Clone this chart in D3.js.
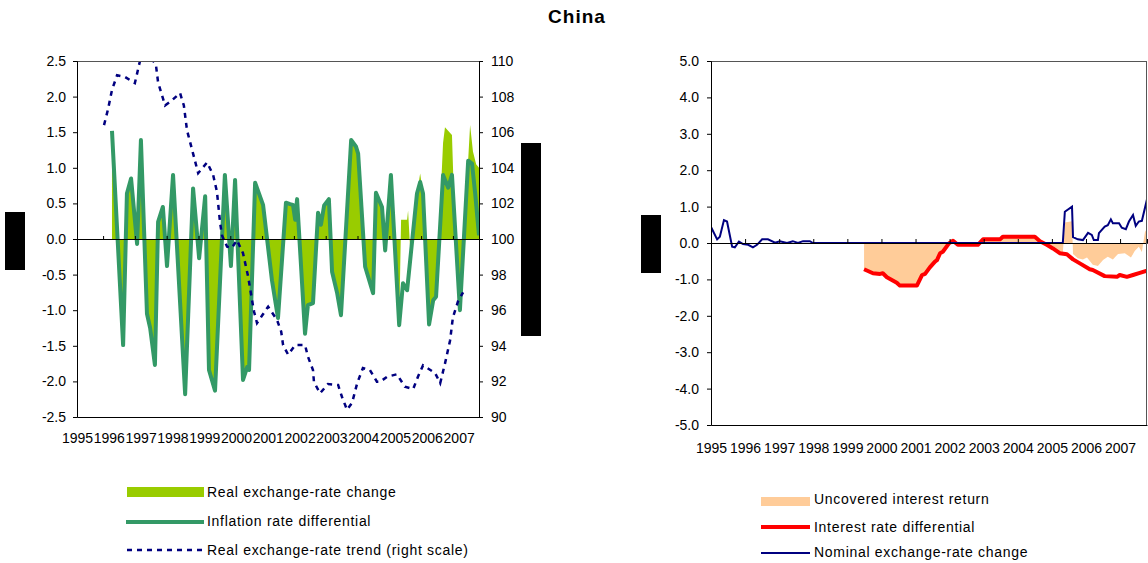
<!DOCTYPE html>
<html><head><meta charset="utf-8">
<script src="https://cdn.jsdelivr.net/npm/d3@7"></script>
<style>
html,body{margin:0;padding:0;background:#fff;}
svg{display:block;font-family:"Liberation Sans",Arial,sans-serif;}
</style></head>
<body><svg id="c" width="1148" height="563"></svg>
<script>
// ---------- DATA ----------
const yearLabels = ["1995","1996","1997","1998","1999","2000","2001","2002","2003","2004","2005","2006","2007"];
const leftTicks = [-2.5,-2.0,-1.5,-1.0,-0.5,0.0,0.5,1.0,1.5,2.0,2.5];
const rightScaleTicks = [90,92,94,96,98,100,102,104,106,108,110];
const rightTicks = [-5,-4,-3,-2,-1,0,1,2,3,4,5];

// Inflation rate differential (left chart, green line)
const inflDates = [1996.10,1996.45,1996.57,1996.70,1996.89,1997.01,1997.20,1997.30,1997.45,1997.55,1997.70,1997.83,1998.02,1998.40,1998.65,1998.84,1999.03,1999.15,1999.34,1999.65,1999.84,1999.97,2000.22,2000.35,2000.41,2000.60,2000.85,2001.13,2001.32,2001.57,2001.70,2001.79,2001.86,2001.92,2002.17,2002.26,2002.42,2002.58,2002.67,2002.77,2002.92,2003.02,2003.18,2003.30,2003.62,2003.77,2003.84,2004.06,2004.31,2004.40,2004.59,2004.69,2004.87,2005.13,2005.25,2005.38,2005.69,2005.79,2005.88,2006.07,2006.20,2006.29,2006.51,2006.67,2006.79,2007.04,2007.30,2007.42,2007.52,2007.64];
const inflValues = [1.52,-1.49,0.64,0.85,-0.07,1.39,-1.05,-1.25,-1.77,0.24,0.45,-0.38,0.90,-2.18,0.71,-0.27,0.60,-1.84,-2.13,0.90,-0.38,0.83,-1.98,-1.80,-1.84,0.79,0.48,-0.58,-1.11,0.51,0.49,0.48,0.27,0.56,-1.33,-0.93,-0.90,0.37,0.20,0.47,0.56,-0.46,-0.76,-1.07,1.39,1.30,1.20,-0.39,-0.76,0.65,0.45,-0.16,0.90,-1.21,-0.62,-0.72,0.64,0.80,0.64,-1.20,-0.86,-0.81,0.90,0.72,0.90,-1.00,1.10,1.06,0.64,0.05];

// Real exchange-rate change (left chart, lime area)
const rerDates = [1996.10,1996.45,1996.57,1996.70,1996.89,1997.01,1997.20,1997.30,1997.45,1997.55,1997.70,1997.83,1998.02,1998.40,1998.65,1998.84,1999.03,1999.15,1999.34,1999.65,1999.84,1999.97,2000.22,2000.35,2000.41,2000.60,2000.85,2001.13,2001.32,2001.57,2001.70,2001.79,2001.86,2001.92,2002.17,2002.26,2002.42,2002.58,2002.67,2002.77,2002.92,2003.02,2003.18,2003.30,2003.62,2003.77,2003.84,2004.06,2004.31,2004.40,2004.59,2004.69,2004.87,2005.13,2005.19,2005.38,2005.41,2005.50,2005.69,2005.79,2005.88,2006.07,2006.20,2006.29,2006.51,2006.57,2006.79,2006.83,2007.04,2007.36,2007.45,2007.55,2007.64];
const rerValues = [1.52,-1.49,0.64,0.85,-0.07,1.39,-1.05,-1.25,-1.77,0.24,0.45,-0.38,0.90,-2.18,0.71,-0.27,0.60,-1.84,-2.13,0.90,-0.38,0.83,-1.98,-1.80,-1.84,0.79,0.48,-0.58,-1.11,0.51,0.49,0.48,0.27,0.56,-1.33,-0.93,-0.90,0.37,0.20,0.47,0.56,-0.46,-0.76,-1.07,1.39,1.30,1.20,-0.39,-0.76,0.65,0.45,-0.16,0.90,-1.21,0.27,0.27,0.40,-0.35,0.64,0.92,0.64,-1.20,-0.86,-0.81,1.35,1.57,1.46,0.90,-1.00,1.60,1.23,1.05,1.00];

// Real exchange-rate trend (right scale, dashed navy)
const trendDates = [1995.85,1995.97,1996.10,1996.26,1996.51,1996.82,1996.98,1997.23,1997.48,1997.55,1997.77,1997.99,1998.24,1998.36,1998.46,1998.65,1998.81,1999.09,1999.28,1999.40,1999.50,1999.56,1999.72,1999.87,2000.03,2000.22,2000.38,2000.50,2000.57,2000.66,2000.82,2001.01,2001.29,2001.42,2001.48,2001.64,2001.86,2002.17,2002.26,2002.42,2002.45,2002.64,2002.89,2003.21,2003.33,2003.49,2003.65,2003.81,2003.99,2004.21,2004.43,2004.53,2004.75,2005.06,2005.31,2005.57,2005.72,2005.88,2006.26,2006.42,2006.57,2006.73,2006.82,2006.98,2007.14];
const trendValues = [106.4,107.25,108.37,109.2,109.1,108.76,110.0,110.4,109.8,108.8,107.5,107.8,108.2,107.5,106.1,104.8,103.7,104.3,103.6,102.66,100.9,100.2,99.57,99.5,99.94,99.2,97.9,96.6,95.9,95.28,95.7,96.2,95.45,94.8,94.04,93.5,94.04,94.04,93.4,92.64,91.98,91.33,91.85,91.8,91.14,90.4,90.8,91.9,92.75,92.64,91.98,91.98,92.26,92.4,91.7,91.57,92.26,92.9,92.47,91.9,93.0,94.3,95.6,96.5,97.0];

// Nominal exchange-rate change (right chart, navy line)
const nomDates = [1995.00,1995.18,1995.26,1995.38,1995.47,1995.62,1995.70,1995.82,1995.94,1996.09,1996.23,1996.35,1996.50,1996.67,1996.88,1997.02,1997.23,1997.40,1997.55,1997.70,1997.90,1997.99,2005.32,2005.38,2005.59,2005.62,2005.76,2005.91,2006.06,2006.17,2006.23,2006.35,2006.38,2006.55,2006.64,2006.73,2006.79,2006.97,2007.05,2007.17,2007.26,2007.38,2007.46,2007.55,2007.64,2007.79];
const nomValues = [0.44,0.10,0.17,0.63,0.59,-0.10,-0.12,0.04,-0.03,-0.05,-0.12,-0.05,0.10,0.10,0.01,0.05,0.00,0.05,0.00,0.05,0.05,0.00,0.00,0.86,1.00,0.16,0.10,0.08,0.28,0.22,0.08,0.08,0.27,0.45,0.49,0.65,0.54,0.54,0.42,0.38,0.59,0.77,0.47,0.59,0.61,1.20];

// Interest rate differential (right chart, red line)
const irdDates = [1999.49,1999.75,1999.96,2000.04,2000.16,2000.45,2000.54,2001.04,2001.19,2001.28,2001.42,2001.57,2001.63,2001.72,2001.80,2001.98,2002.10,2002.24,2002.83,2002.98,2003.48,2003.56,2004.50,2004.65,2004.85,2005.03,2005.23,2005.44,2005.62,2005.82,2006.11,2006.20,2006.55,2006.91,2006.99,2007.20,2007.38,2007.58,2007.79];
const irdValues = [-0.72,-0.83,-0.85,-0.83,-0.94,-1.09,-1.17,-1.17,-0.88,-0.85,-0.67,-0.51,-0.47,-0.28,-0.24,-0.01,0.06,-0.05,-0.05,0.10,0.10,0.17,0.17,0.05,-0.05,-0.15,-0.28,-0.31,-0.45,-0.56,-0.72,-0.74,-0.91,-0.93,-0.88,-0.93,-0.88,-0.82,-0.76];

// Uncovered interest return (right chart, peach area)
const uirDates = [1999.49,1999.75,1999.96,2000.04,2000.16,2000.45,2000.54,2001.04,2001.19,2001.28,2001.42,2001.57,2001.63,2001.72,2001.80,2001.98,2002.10,2002.24,2002.83,2002.98,2003.48,2003.56,2004.50,2004.65,2004.85,2005.03,2005.23,2005.32,2005.38,2005.59,2005.62,2005.76,2005.91,2006.03,2006.20,2006.35,2006.50,2006.64,2006.79,2006.94,2007.14,2007.32,2007.43,2007.55,2007.64,2007.73,2007.79];
const uirValues = [-0.72,-0.83,-0.85,-0.83,-0.94,-1.09,-1.17,-1.17,-0.88,-0.85,-0.67,-0.51,-0.47,-0.28,-0.24,-0.01,0.06,-0.05,-0.05,0.10,0.10,0.17,0.17,0.05,-0.05,-0.15,-0.28,-0.28,0.56,0.60,-0.30,-0.42,-0.45,-0.40,-0.60,-0.63,-0.47,-0.38,-0.45,-0.30,-0.28,-0.40,-0.22,-0.10,-0.25,0.30,0.40];

// ---------- DRAW ----------
const svg = d3.select("#c");
const zip = (ds, vs) => ds.map((d,i)=>({date:d, v:vs[i]}));
const fmt1 = d => d.toFixed(1);

// Title
svg.append("text").attr("x",577).attr("y",23).attr("text-anchor","middle")
  .attr("font-size",19).attr("font-weight","bold").attr("letter-spacing","1px").text("China");

// ===== LEFT CHART =====
const L = {x0:77, x1:479, y0:61, y1:417};
const xL = d3.scaleLinear().domain([1995, 2007.64]).range([L.x0, L.x1]);
const yL = d3.scaleLinear().domain([-2.5, 2.5]).range([L.y1, L.y0]);
const yT = d3.scaleLinear().domain([90, 110]).range([L.y1, L.y0]);

svg.append("clipPath").attr("id","clipL").append("rect")
  .attr("x",L.x0).attr("y",L.y0).attr("width",L.x1-L.x0).attr("height",L.y1-L.y0);
const gL = svg.append("g").attr("clip-path","url(#clipL)");

gL.append("path").datum(zip(rerDates, rerValues))
  .attr("fill","#99CC00")
  .attr("d", d3.area().x(d=>xL(d.date)).y0(yL(0)).y1(d=>yL(d.v)));

// zero line with ticks
const zeroL = svg.append("g").attr("transform",`translate(0,${yL(0)})`)
  .call(d3.axisBottom(xL).tickValues(d3.range(1995.82, 2007.5, 1)).tickSize(-3).tickFormat(""));
zeroL.selectAll("path,line").attr("stroke","#000");

gL.append("path").datum(zip(inflDates, inflValues))
  .attr("fill","none").attr("stroke","#339966").attr("stroke-width",4).attr("stroke-linejoin","round")
  .attr("d", d3.line().x(d=>xL(d.date)).y(d=>yL(d.v)));

gL.append("path").datum(zip(trendDates, trendValues))
  .attr("fill","none").attr("stroke","#000080").attr("stroke-width",2.5).attr("stroke-dasharray","5,5")
  .attr("d", d3.line().x(d=>xL(d.date)).y(d=>yT(d.v)));

// frame
svg.append("line").attr("x1",L.x0).attr("x2",L.x1).attr("y1",L.y0+0.5).attr("y2",L.y0+0.5).attr("stroke","#555");
const axL = svg.append("g").attr("transform",`translate(${L.x0},0)`)
  .call(d3.axisLeft(yL).tickValues(leftTicks).tickSize(4).tickPadding(7).tickFormat(fmt1));
const axLR = svg.append("g").attr("transform",`translate(${L.x1},0)`)
  .call(d3.axisRight(yT).tickValues(rightScaleTicks).tickSize(4).tickPadding(8).tickFormat(d3.format("d")));
const axLB = svg.append("g").attr("transform",`translate(0,${L.y1})`)
  .call(d3.axisBottom(xL).tickValues(yearLabels.map(Number)).tickSize(0).tickPadding(16).tickFormat(d=>String(d)));
[axL,axLR,axLB].forEach(a=>{a.selectAll("text").attr("font-size",14).attr("fill","#000").attr("font-family","Liberation Sans, Arial, sans-serif");
  a.selectAll("path,line").attr("stroke","#000");});

// ===== RIGHT CHART =====
const R = {x0:711, x1:1147, y0:61, y1:425};
const xR = d3.scaleLinear().domain([1995, 2007.79]).range([R.x0, R.x1]);
const yR = d3.scaleLinear().domain([-5, 5]).range([R.y1, R.y0]);

svg.append("clipPath").attr("id","clipR").append("rect")
  .attr("x",R.x0).attr("y",R.y0).attr("width",R.x1-R.x0).attr("height",R.y1-R.y0);
const gR = svg.append("g").attr("clip-path","url(#clipR)");

gR.append("path").datum(zip(uirDates, uirValues))
  .attr("fill","#FFCC99")
  .attr("d", d3.area().x(d=>xR(d.date)).y0(yR(0)).y1(d=>yR(d.v)));

const zeroR = svg.append("g").attr("transform",`translate(0,${yR(0)})`)
  .call(d3.axisBottom(xR).tickValues(d3.range(1996, 2008, 1)).tickSize(-4).tickFormat(""));
zeroR.selectAll("path,line").attr("stroke","#000");

gR.append("path").datum(zip(irdDates, irdValues))
  .attr("fill","none").attr("stroke","#FF0000").attr("stroke-width",4).attr("stroke-linejoin","round")
  .attr("d", d3.line().x(d=>xR(d.date)).y(d=>yR(d.v)));

gR.append("path").datum(zip(nomDates, nomValues))
  .attr("fill","none").attr("stroke","#000080").attr("stroke-width",2)
  .attr("d", d3.line().x(d=>xR(d.date)).y(d=>yR(d.v)));

svg.append("line").attr("x1",R.x0).attr("x2",R.x1).attr("y1",R.y0+0.5).attr("y2",R.y0+0.5).attr("stroke","#555");
svg.append("line").attr("x1",R.x1-0.5).attr("x2",R.x1-0.5).attr("y1",R.y0).attr("y2",R.y1).attr("stroke","#555");
const axR = svg.append("g").attr("transform",`translate(${R.x0},0)`)
  .call(d3.axisLeft(yR).tickValues(rightTicks).tickSize(4).tickPadding(8).tickFormat(fmt1));
const axRB = svg.append("g").attr("transform",`translate(0,${R.y1})`)
  .call(d3.axisBottom(xR).tickValues(yearLabels.map(Number)).tickSize(0).tickPadding(18).tickFormat(d=>String(d)));
[axR,axRB].forEach(a=>{a.selectAll("text").attr("font-size",14).attr("fill","#000").attr("font-family","Liberation Sans, Arial, sans-serif");
  a.selectAll("path,line").attr("stroke","#000");});

// ===== redacted axis-title blocks =====
[[5,212,20,58],[521,143,20,193],[641,215,20,58]].forEach(b=>{
  svg.append("rect").attr("x",b[0]).attr("y",b[1]).attr("width",b[2]).attr("height",b[3]).attr("fill","#000");
});

// ===== LEGENDS =====
const lg = svg.append("g").attr("font-size",14).attr("letter-spacing","0.7px");
lg.append("rect").attr("x",127).attr("y",487).attr("width",77).attr("height",10).attr("fill","#99CC00");
lg.append("text").attr("x",207).attr("y",497).text("Real exchange-rate change");
lg.append("line").attr("x1",126).attr("x2",204).attr("y1",522).attr("y2",522).attr("stroke","#339966").attr("stroke-width",4);
lg.append("text").attr("x",207).attr("y",526).text("Inflation rate differential");
lg.append("line").attr("x1",127).attr("x2",204).attr("y1",550).attr("y2",550).attr("stroke","#000080").attr("stroke-width",2.5).attr("stroke-dasharray","5,5");
lg.append("text").attr("x",207).attr("y",555).text("Real exchange-rate trend (right scale)");

lg.append("rect").attr("x",761).attr("y",497).attr("width",49).attr("height",9).attr("fill","#FFCC99");
lg.append("text").attr("x",814).attr("y",504).text("Uncovered interest return");
lg.append("line").attr("x1",761).attr("x2",810).attr("y1",527).attr("y2",527).attr("stroke","#FF0000").attr("stroke-width",4);
lg.append("text").attr("x",814).attr("y",532).text("Interest rate differential");
lg.append("line").attr("x1",761).attr("x2",810).attr("y1",553).attr("y2",553).attr("stroke","#000080").attr("stroke-width",2);
lg.append("text").attr("x",814).attr("y",557).text("Nominal exchange-rate change");
</script></body></html>
